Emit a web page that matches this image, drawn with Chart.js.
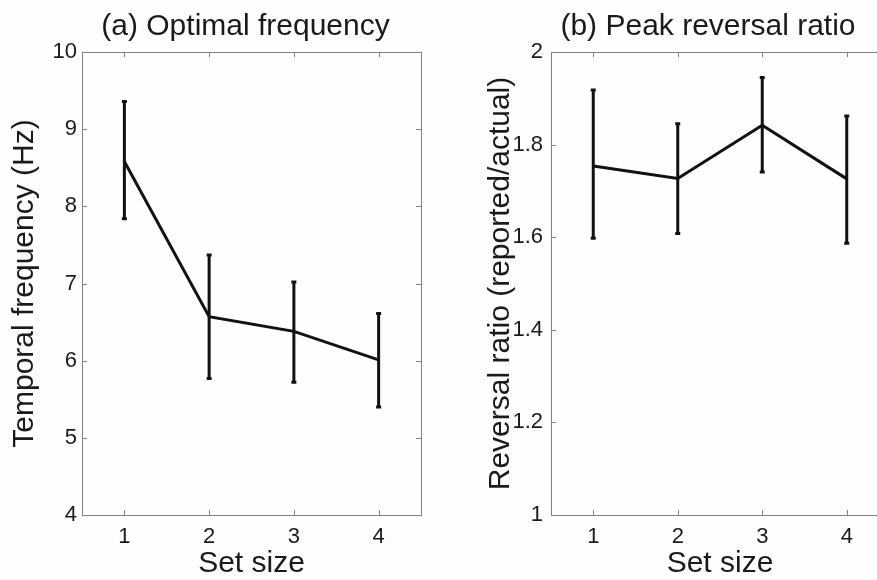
<!DOCTYPE html>
<html>
<head>
<meta charset="utf-8">
<script src="https://cdn.jsdelivr.net/npm/chart.js@4.4.0/dist/chart.umd.min.js"></script>
<style>
  html, body { margin: 0; padding: 0; background: #fff; overflow: hidden; }
  #wrap { position: relative; width: 877px; height: 580px; overflow: hidden; background: #fefefe; }
  canvas { position: absolute; top: 0; }
</style>
</head>
<body>
<div id="wrap">
  <canvas id="left" width="491" height="580" style="left:0px"></canvas>
  <canvas id="right" width="496" height="580" style="left:460px"></canvas>
</div>
<script>
// values
const setSizes = [1, 2, 3, 4];

const freqMean = [8.58, 6.57, 6.38, 6.01];
const freqHigh = [9.36, 7.37, 7.02, 6.61];
const freqLow  = [7.84, 5.77, 5.72, 5.40];

const ratioMean = [1.754, 1.727, 1.842, 1.726];
const ratioHigh = [1.918, 1.845, 1.945, 1.862];
const ratioLow  = [1.598, 1.608, 1.741, 1.587];

const freqTicks  = [4, 5, 6, 7, 8, 9, 10];
const ratioTicks = [1, 1.2, 1.4, 1.6, 1.8, 2];

const FONT = '"Liberation Sans", Arial, sans-serif';
const TEXT = '#1a1a1a';
const AXIS = '#808080';

Chart.defaults.font.family = FONT;
Chart.defaults.color = TEXT;

// MATLAB-ish box with inward ticks, error bars and panel title
const matlabBox = {
  id: 'matlabBox',
  beforeDatasetsDraw(chart, args, opts) {
    const { ctx, chartArea: a, scales: { x, y } } = chart;
    ctx.save();
    ctx.strokeStyle = AXIS;
    ctx.lineWidth = 1;
    ctx.strokeRect(Math.round(a.left) + 0.5, Math.round(a.top) + 0.5,
                   Math.round(a.right - a.left), Math.round(a.bottom - a.top));
    const tl = 5;
    ctx.beginPath();
    x.ticks.forEach(t => {
      const px = Math.round(x.getPixelForValue(t.value)) + 0.5;
      ctx.moveTo(px, a.bottom); ctx.lineTo(px, a.bottom - tl);
      ctx.moveTo(px, a.top); ctx.lineTo(px, a.top + tl);
    });
    y.ticks.forEach(t => {
      const py = Math.round(y.getPixelForValue(t.value)) + 0.5;
      ctx.moveTo(a.left, py); ctx.lineTo(a.left + tl, py);
      ctx.moveTo(a.right, py); ctx.lineTo(a.right - tl, py);
    });
    ctx.stroke();
    ctx.restore();
  },
  afterDatasetsDraw(chart, args, opts) {
    const { ctx, scales: { x, y } } = chart;
    ctx.save();
    ctx.strokeStyle = '#111';
    ctx.lineWidth = 3;
    opts.low.forEach((lo, i) => {
      const px = x.getPixelForValue(setSizes[i]);
      const top = y.getPixelForValue(opts.high[i]);
      const bot = y.getPixelForValue(lo);
      ctx.beginPath();
      ctx.moveTo(px, top); ctx.lineTo(px, bot);
      ctx.moveTo(px - 2.5, top); ctx.lineTo(px + 2.5, top);
      ctx.moveTo(px - 2.5, bot); ctx.lineTo(px + 2.5, bot);
      ctx.stroke();
    });
    ctx.restore();
  },
  afterDraw(chart, args, opts) {
    const { ctx } = chart;
    ctx.save();
    ctx.font = '30px ' + FONT;
    ctx.fillStyle = TEXT;
    ctx.textAlign = 'center';
    ctx.textBaseline = 'alphabetic';
    ctx.fillText(opts.title, opts.titleX, 35);
    ctx.restore();
  }
};

function makePanel(id, cfg) {
  return new Chart(document.getElementById(id), {
    type: 'line',
    data: {
      datasets: [{
        data: setSizes.map((s, i) => ({ x: s, y: cfg.mean[i] })),
        borderColor: '#111',
        borderWidth: 3,
        pointRadius: 0,
        tension: 0,
        fill: false
      }]
    },
    options: {
      responsive: false,
      animation: false,
      layout: { padding: { top: 52, left: 0, right: cfg.padRight, bottom: 0 } },
      plugins: {
        legend: { display: false },
        tooltip: { enabled: false },
        matlabBox: { low: cfg.low, high: cfg.high, title: cfg.title, titleX: cfg.titleX }
      },
      scales: {
        x: {
          type: 'linear',
          min: 0.5,
          max: 4.5,
          afterBuildTicks: s => { s.ticks = setSizes.map(v => ({ value: v })); },
          afterFit: s => { s.height = 65; },
          grid: { display: false, drawTicks: false },
          border: { display: false },
          ticks: { padding: 9, font: { size: 22 }, color: TEXT, maxRotation: 0 },
          title: {
            display: true, text: 'Set size', color: TEXT,
            font: { size: 30, lineHeight: 1 }, padding: { top: 0, bottom: 1 }
          }
        },
        y: {
          type: 'linear',
          min: cfg.yTicks[0],
          max: cfg.yTicks[cfg.yTicks.length - 1],
          afterBuildTicks: s => { s.ticks = cfg.yTicks.map(v => ({ value: v })); },
          afterFit: s => { s.width = cfg.yWidth; },
          grid: { display: false, drawTicks: false },
          border: { display: false },
          ticks: {
            padding: cfg.tickPad, font: { size: 22 }, color: TEXT,
            callback: v => String(Math.round(v * 10) / 10)
          },
          title: {
            display: true, text: cfg.yTitle, color: TEXT,
            font: { size: 30, lineHeight: 1 }, padding: { top: cfg.yTitlePad, bottom: 0 }
          }
        }
      }
    },
    plugins: [matlabBox]
  });
}

makePanel('left', {
  mean: freqMean, low: freqLow, high: freqHigh, yTicks: freqTicks,
  title: '(a) Optimal frequency', titleX: 245.5,
  yTitle: 'Temporal frequency (Hz)', yWidth: 82, yTitlePad: 10, tickPad: 5,
  padRight: 70
});

makePanel('right', {
  mean: ratioMean, low: ratioLow, high: ratioHigh, yTicks: ratioTicks,
  title: '(b) Peak reversal ratio', titleX: 248,
  yTitle: 'Reversal ratio (reported/actual)', yWidth: 91, yTitlePad: 26, tickPad: 8,
  padRight: 67
});
</script>
</body>
</html>
